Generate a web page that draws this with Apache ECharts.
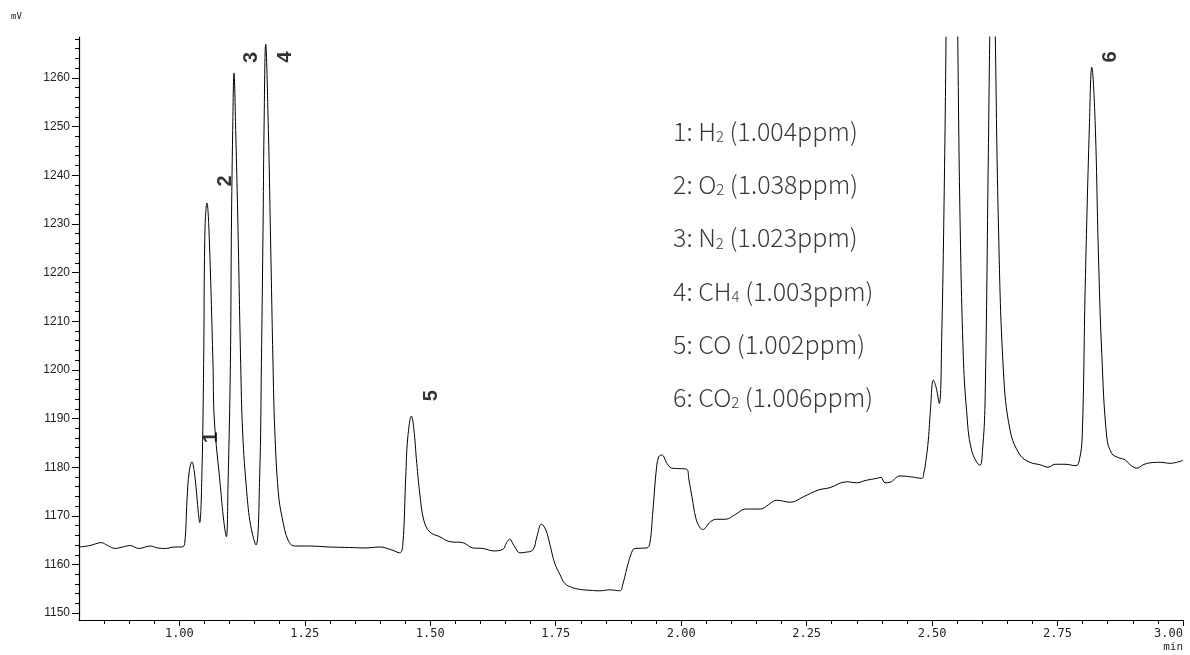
<!DOCTYPE html>
<html>
<head>
<meta charset="utf-8">
<script src="https://cdn.jsdelivr.net/npm/echarts@6/dist/echarts.min.js"></script>
<style>
html,body{margin:0;padding:0;background:#fff;}
#chart{width:1190px;height:655px;}
</style>
</head>
<body>
<div id="chart"></div>
<script>
// ---- data ----
const retentionTime = [
  0.800,0.822,0.8445,0.857,0.8724,0.887,0.9023,0.9189,0.9422,0.9567,0.9721,0.9906,
  1.0052,1.0106,1.0152,1.0195,1.0251,1.0291,1.0331,1.0375,1.0405,1.0451,1.0484,1.0510,
  1.0550,1.0590,1.0670,1.0697,1.0818,1.0884,1.0937,1.0969,1.1017,1.1037,1.1063,1.1089,
  1.1123,1.1169,1.1222,1.1262,1.1342,1.1421,1.1527,1.1600,1.1635,1.1667,1.1687,1.1720,
  1.1774,1.1814,1.1866,1.1900,1.1970,1.2045,1.2179,1.2313,1.2578,1.2996,1.3395,1.3700,
  1.3993,1.4232,1.4391,1.4452,1.4511,1.4551,1.4625,1.4671,1.4731,1.4791,1.4871,1.4990,
  1.5190,1.5389,1.5648,1.5847,1.6047,1.6266,1.6445,1.6520,1.6585,1.6650,1.6685,1.6785,
  1.6884,1.7044,1.7124,1.7217,1.7303,1.7382,1.7482,1.7582,1.7682,1.7821,1.7981,1.8180,
  1.8379,1.8579,1.8778,1.8838,1.8917,1.8997,1.9077,1.9316,1.9376,1.9436,1.9510,1.9556,
  1.9616,1.9715,1.9815,1.9975,2.0108,2.0154,2.0213,2.0293,2.0373,2.0427,2.0585,2.0706,
  2.0883,2.1082,2.1282,2.1581,2.1740,2.1902,2.2183,2.2432,2.2731,2.2964,2.3297,2.3497,
  2.3682,2.3896,2.3981,2.4061,2.4160,2.4360,2.4593,2.4793,2.4839,2.4879,2.4925,2.4969,
  2.5024,2.5078,2.5144,2.5192,2.5252,2.5290,2.5340,2.5397,2.5455,2.5510,2.5553,2.5620,
  2.5687,2.5787,2.5955,2.6005,2.6055,2.6121,2.6154,2.6204,2.6254,2.6320,2.6420,2.6554,
  2.6753,2.6952,2.7152,2.7311,2.7451,2.7650,2.7870,2.7935,2.7991,2.8051,2.8134,2.8182,
  2.8248,2.8314,2.8381,2.8481,2.8581,2.8707,2.8847,2.8947,2.9080,2.9206,2.9346,2.9545,
  2.9745,3.0000
];
const signal = [
  1163.6,1163.9,1164.5,1163.9,1163.3,1163.6,1163.9,1163.3,1163.8,1163.4,1163.3,1163.6,
  1163.6,1164.3,1173.2,1179.0,1181.1,1179.5,1176.0,1171.0,1168.6,1179.4,1201.3,1228.7,
  1234.3,1228.7,1201.3,1189.7,1176.0,1169.0,1165.7,1176.0,1201.3,1228.7,1249.2,1261.0,
  1249.2,1228.7,1201.3,1187.0,1175.0,1168.0,1164.0,1178.0,1201.3,1228.7,1249.2,1266.9,
  1249.2,1228.7,1201.3,1188.0,1175.0,1169.8,1164.7,1163.8,1163.8,1163.6,1163.5,1163.4,
  1163.6,1163.0,1162.4,1164.0,1178.0,1186.0,1190.5,1188.0,1180.8,1174.6,1169.1,1166.7,
  1165.7,1164.7,1164.5,1163.4,1163.3,1162.8,1163.1,1164.5,1165.2,1164.2,1163.6,1162.4,
  1162.5,1163.0,1165.7,1168.3,1167.1,1164.2,1160.2,1158.0,1156.1,1155.3,1154.9,1154.7,
  1154.6,1154.8,1154.6,1156.0,1159.2,1162.0,1163.3,1163.4,1164.4,1171.0,1180.0,1182.2,
  1182.5,1180.8,1179.8,1179.7,1179.6,1177.4,1174.0,1169.5,1167.6,1167.2,1168.8,1169.3,
  1169.3,1170.3,1171.4,1171.4,1172.3,1173.2,1172.8,1173.9,1175.3,1175.8,1177.0,1176.8,
  1177.3,1177.7,1177.9,1176.8,1176.9,1178.2,1178.0,1177.7,1179.0,1181.5,1185.6,1192.0,
  1197.9,1196.5,1193.1,1206.8,1244.5,1280.0,1320.0,1340.0,1320.0,1270.0,1233.5,1203.4,
  1191.7,1183.5,1180.4,1183.5,1193.2,1244.5,1272.0,1300.0,1272.0,1230.8,1200.0,1187.6,
  1182.5,1181.0,1180.5,1180.0,1180.6,1180.6,1180.3,1181.5,1186.2,1217.0,1249.9,1262.2,
  1251.3,1224.0,1203.4,1186.2,1182.8,1182.0,1181.5,1180.5,1179.8,1180.5,1180.9,1181.0,
  1180.8,1181.4
];
const xTickValues = [1.00,1.25,1.50,1.75,2.00,2.25,2.50,2.75,3.00];
const yTickValues = [1150,1160,1170,1180,1190,1200,1210,1220,1230,1240,1250,1260];
const peakIds = ['1','2','3','4','5','6'];
const peakLabelTime = [1.0650,1.0917,1.1435,1.2105,1.5024,2.8561];
const peakLabelSignal = [1186.1,1238.8,1264.2,1264.3,1194.7,1264.3];
const compoundNumbers = ['1','2','3','4','5','6'];
const compoundFormula = [['H','2'],['O','2'],['N','2'],['CH','4'],['CO',''],['CO','2']];
const compoundConc = ['1.004ppm','1.038ppm','1.023ppm','1.003ppm','1.002ppm','1.006ppm'];

// ---- build ----
const X_MIN = 0.80, X_MAX = 3.00, Y_MIN = 1148.6, Y_MAX = 1268.4;
const lineData = retentionTime.map((t, i) => [t, signal[i]]);
const labelData = peakIds.map((id, i) => ({ name: id, value: [peakLabelTime[i], peakLabelSignal[i]] }));

const xMinor = [];
for (let k = 17; k <= 60; k++) { if (k % 5 !== 0) xMinor.push(+(k * 0.05).toFixed(2)); }
const yMinor = [];
for (let v = 1150; v <= 1268; v += 2) { if (v % 10 !== 0) yMinor.push(v); }

const legendGraphics = compoundNumbers.map((n, i) => {
  const f = compoundFormula[i];
  const txt = '{a|' + n + ': ' + f[0] + '}' + (f[1] ? '{b|' + f[1] + '}' : '') + '{a| (' + compoundConc[i] + ')}';
  return {
    type: 'text', left: 673, top: 119 + i * 53.2, silent: true,
    style: {
      text: txt,
      rich: {
        a: { fontSize: 25, fontFamily: "'Noto Sans CJK SC'", fontWeight: 300, fill: '#3a3a3a', verticalAlign: 'bottom', lineHeight: 26 },
        b: { fontSize: 15, fontFamily: "'Noto Sans CJK SC'", fontWeight: 300, fill: '#3a3a3a', verticalAlign: 'bottom', lineHeight: 26 }
      }
    }
  };
});

const chart = echarts.init(document.getElementById('chart'), null, { renderer: 'canvas' });
chart.setOption({
  animation: false,
  backgroundColor: '#fff',
  grid: { left: 79, right: 7, top: 37, bottom: 35, containLabel: false, outerBoundsMode: 'none' },
  xAxis: [
    {
      type: 'value', min: X_MIN, max: X_MAX,
      axisLine: { show: true, lineStyle: { color: '#000', width: 1.2 } },
      axisTick: { show: true, customValues: xTickValues, length: 6, lineStyle: { color: '#000' } },
      axisLabel: {
        show: true, customValues: xTickValues, margin: 8, alignMaxLabel: 'right',
        formatter: v => v.toFixed(2), fontFamily: "'DejaVu Sans Mono'", fontSize: 12, color: '#222'
      },
      splitLine: { show: false }
    },
    {
      type: 'value', min: X_MIN, max: X_MAX, position: 'bottom',
      axisLine: { show: false },
      axisTick: { show: true, customValues: xMinor, length: 4, lineStyle: { color: '#000' } },
      axisLabel: { show: false },
      splitLine: { show: false }
    }
  ],
  yAxis: [
    {
      type: 'value', min: Y_MIN, max: Y_MAX,
      axisLine: { show: true, lineStyle: { color: '#000', width: 1.2 } },
      axisTick: { show: true, customValues: yTickValues, length: 7, lineStyle: { color: '#000' } },
      axisLabel: {
        show: true, customValues: yTickValues, margin: 9, formatter: v => String(v),
        fontFamily: "'Liberation Sans'", fontSize: 12, color: '#222'
      },
      splitLine: { show: false }
    },
    {
      type: 'value', min: Y_MIN, max: Y_MAX, position: 'left',
      axisLine: { show: false },
      axisTick: { show: true, customValues: yMinor, length: 4, lineStyle: { color: '#000' } },
      axisLabel: { show: false },
      splitLine: { show: false }
    }
  ],
  series: [
    {
      type: 'line', xAxisIndex: 0, yAxisIndex: 0, data: lineData,
      showSymbol: false, symbol: 'none', smooth: 0.4, clip: true,
      lineStyle: { color: '#000', width: 1 }, silent: true
    },
    {
      type: 'scatter', xAxisIndex: 0, yAxisIndex: 0, data: labelData,
      symbolSize: 0, silent: true, clip: false,
      label: {
        show: true, position: 'inside', formatter: p => p.name, rotate: 90,
        fontFamily: "'Liberation Sans'", fontWeight: 'bold', fontSize: 20, color: '#000'
      }
    }
  ],
  graphic: [
    { type: 'text', left: 11, top: 12, silent: true,
      style: { text: 'mV', fontFamily: "'DejaVu Sans Mono'", fontSize: 9, fill: '#222' } },
    { type: 'text', right: 7, top: 642, silent: true,
      style: { text: 'min', fontFamily: "'DejaVu Sans Mono'", fontSize: 11, fill: '#222' } }
  ].concat(legendGraphics)
});
</script>
</body>
</html>
